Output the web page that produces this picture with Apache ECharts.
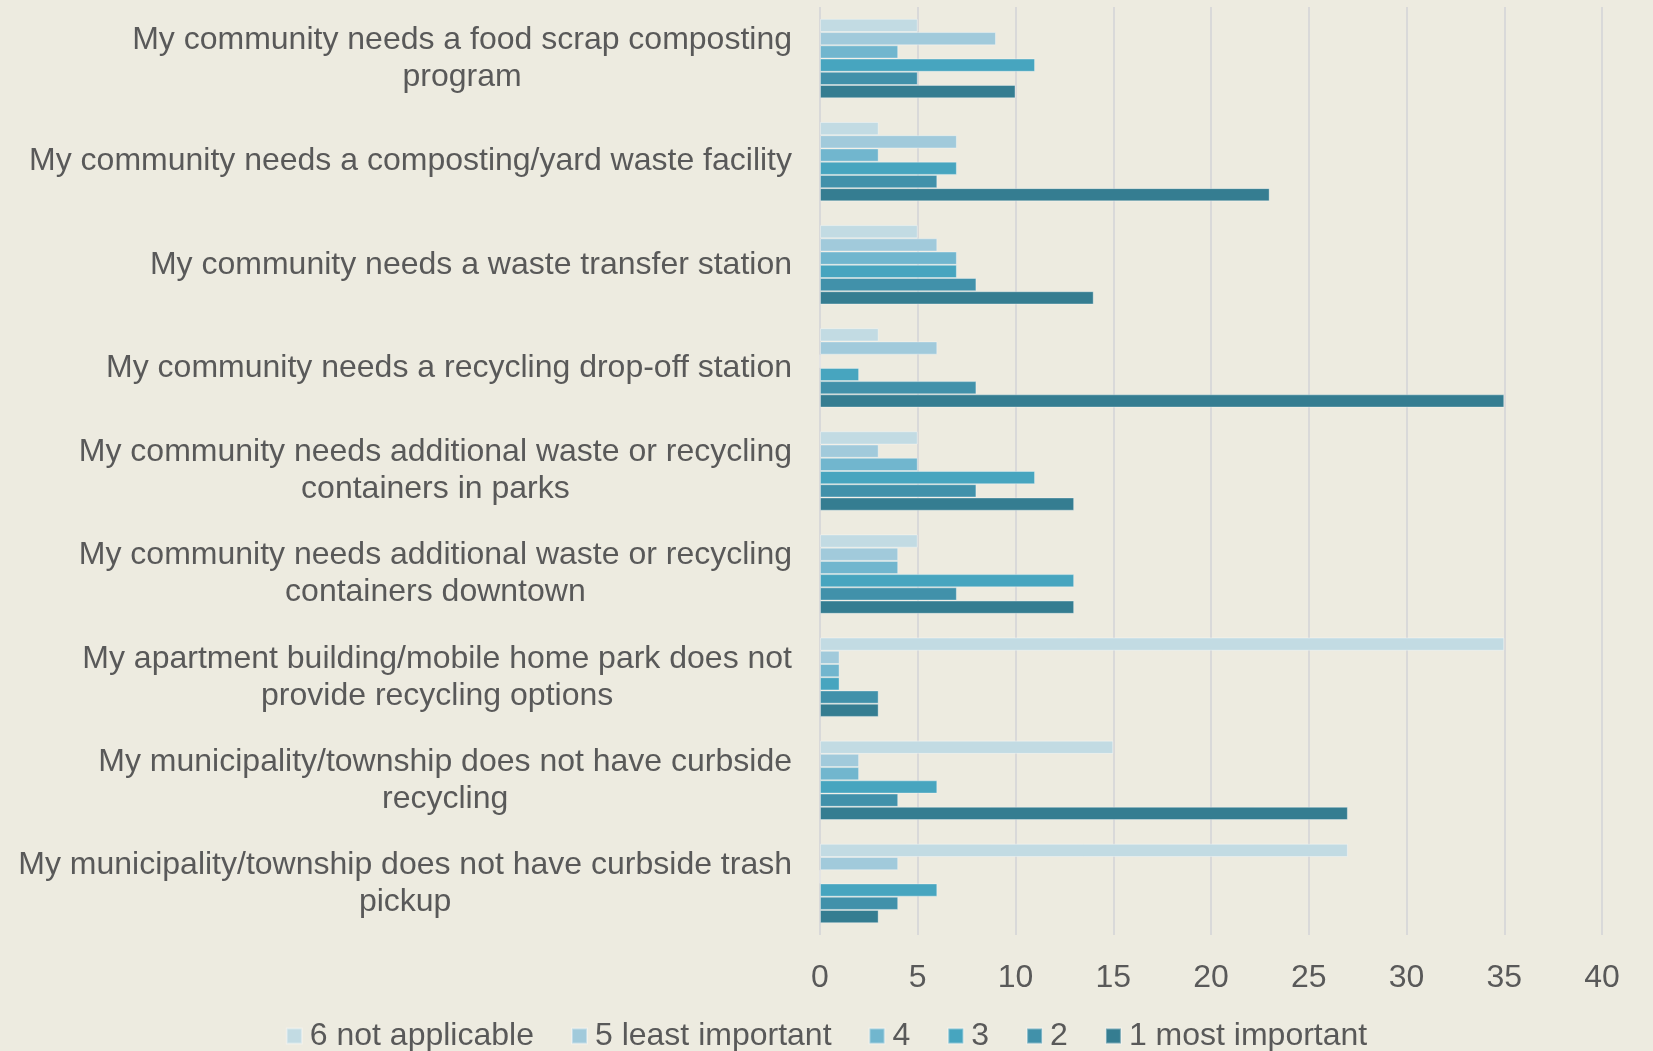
<!DOCTYPE html>
<html>
<head>
<meta charset="utf-8">
<script src="https://cdn.jsdelivr.net/npm/echarts@6/dist/echarts.min.js"></script>
<style>
  html, body { margin: 0; padding: 0; background: #EDEBE0; }
  #chart { width: 1653px; height: 1051px; }
</style>
</head>
<body>
<div id="chart"></div>
<script>
// categories, top to bottom
var categories = [
  'My community needs a food scrap composting\nprogram',
  'My community needs a composting/yard waste facility',
  'My community needs a waste transfer station',
  'My community needs a recycling drop-off station',
  'My community needs additional waste or recycling\ncontainers in parks',
  'My community needs additional waste or recycling\ncontainers downtown',
  'My apartment building/mobile home park does not\nprovide recycling options',
  'My municipality/township does not have curbside\nrecycling',
  'My municipality/township does not have curbside trash\npickup'
];

var seriesNames = ['6 not applicable', '5 least important', '4', '3', '2', '1 most important'];

var notApplicable  = [5, 3, 5, 3, 5, 5, 35, 15, 27];
var leastImportant = [9, 7, 6, 6, 3, 4, 1, 2, 4];
var rank4          = [4, 3, 7, 0, 5, 4, 1, 2, 0];
var rank3          = [11, 7, 7, 2, 11, 13, 1, 6, 6];
var rank2          = [5, 6, 8, 8, 8, 7, 3, 4, 4];
var mostImportant  = [10, 23, 14, 35, 13, 13, 3, 27, 3];

var colors = ['#C2DBE3', '#A1CADB', '#71B6CE', '#47A5BF', '#4191AA', '#357D91'];

var xTicks = [0, 5, 10, 15, 20, 25, 30, 35, 40];

var allValues = [notApplicable, leastImportant, rank4, rank3, rank2, mostImportant];

var series = [];
for (var i = 0; i < seriesNames.length; i++) {
  series.push({
    name: seriesNames[i],
    type: 'bar',
    data: allValues[i],
    barGap: '0%',
    barCategoryGap: '23%',
    itemStyle: {
      color: colors[i],
      borderColor: 'rgba(255,255,255,0.35)',
      borderWidth: 1
    }
  });
}

var chart = echarts.init(document.getElementById('chart'));
chart.setOption({
  backgroundColor: '#EDEBE0',
  animation: false,
  textStyle: { fontFamily: '"Liberation Sans", Arial, sans-serif' },
  grid: {
    left: 820,
    right: 51,
    top: 7,
    bottom: 116,
    outerBoundsMode: 'none'
  },
  legend: {
    data: seriesNames,
    top: 1015,
    left: 'center',
    itemWidth: 15,
    itemHeight: 15,
    itemGap: 37,
    icon: 'rect',
    textStyle: { fontSize: 32, color: '#595959', padding: [0, 0, 0, 3] }
  },
  xAxis: {
    type: 'value',
    min: xTicks[0],
    max: xTicks[xTicks.length - 1],
    interval: 5,
    axisLine: { show: false },
    axisTick: { show: false },
    splitLine: { lineStyle: { color: '#D9D9D9', width: 2 } },
    axisLabel: { fontSize: 32, color: '#595959', margin: 27 }
  },
  yAxis: {
    type: 'category',
    data: categories,
    inverse: true,
    axisLine: { show: false },
    axisTick: { show: false },
    axisLabel: {
      color: '#595959',
      margin: 28,
      align: 'right',
      formatter: function (v) {
        // centre every line inside the right-aligned block
        return v.split('\n').map(function (s) { return '{c|' + s + '}'; }).join('\n');
      },
      rich: {
        c: { fontSize: 32, color: '#595959', lineHeight: 37, align: 'center' }
      }
    }
  },
  series: series
});
</script>
</body>
</html>
